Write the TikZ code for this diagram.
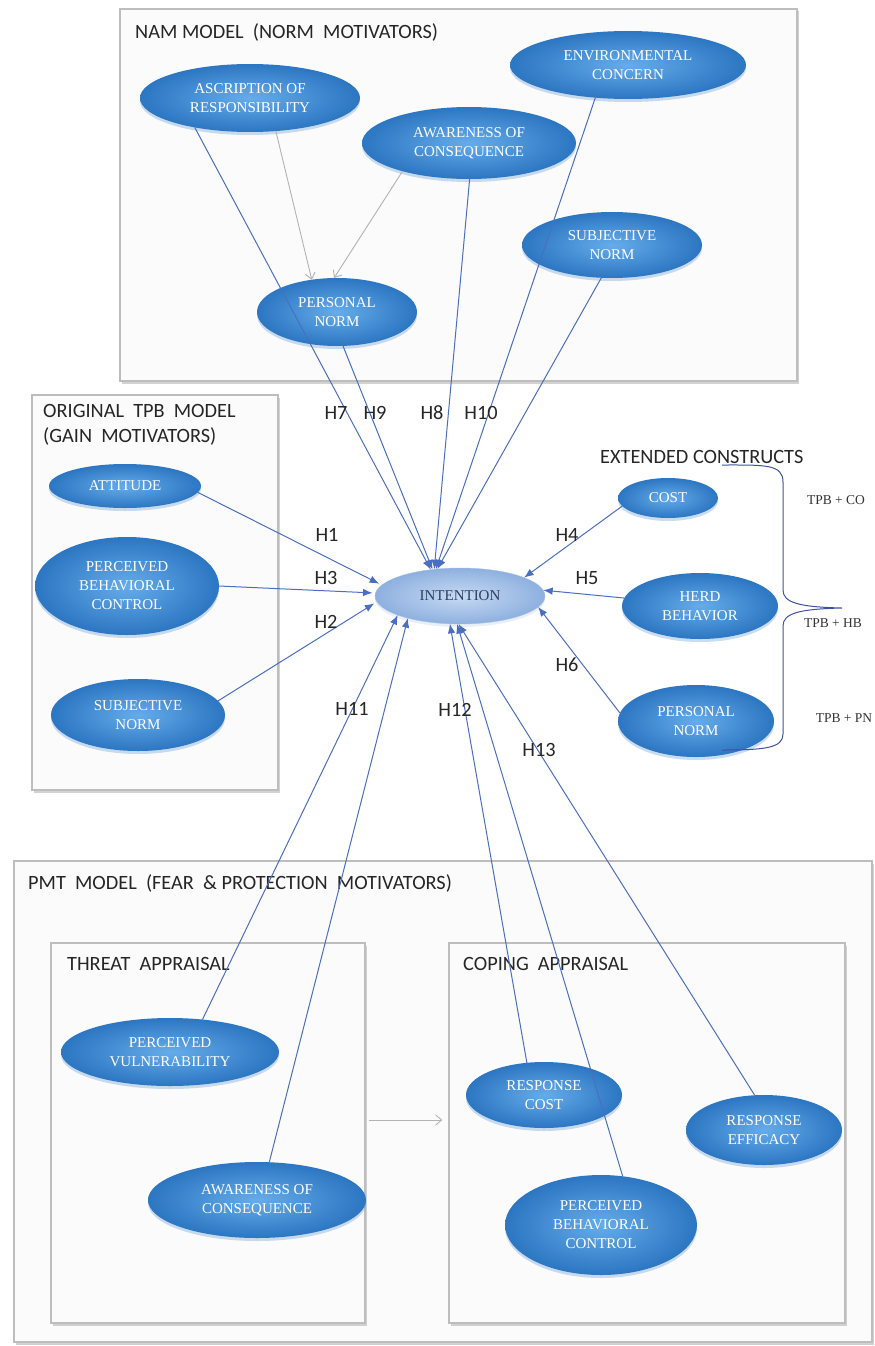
\documentclass[tikz,border=0pt]{standalone}
\usepackage{fontspec}
\setmainfont{Liberation Serif}
\newfontfamily\labfont{Carlito}
\usetikzlibrary{arrows.meta,shapes.geometric,shadows}

\definecolor{pathblue}{HTML}{4A6FC0}
\definecolor{ellin}{HTML}{66ACEA}
\definecolor{ellout}{HTML}{2C76C2}
\definecolor{intin}{HTML}{C6DAF3}
\definecolor{intout}{HTML}{8EB0DF}
\definecolor{inttext}{HTML}{2E3F5F}
\definecolor{panelline}{HTML}{BDBDBD}
\definecolor{bracecol}{HTML}{3F51A0}

\tikzset{
  construct/.style={ellipse, inner sep=0pt, outer sep=0pt,
    inner color=ellin, outer color=ellout, text=white, align=center,
    font=\fontsize{15}{19}\selectfont,
    drop shadow={shadow xshift=0pt, shadow yshift=-3pt, opacity=0.25, fill=ellout}},
  panel/.style={rectangle, draw=panelline, line width=1.2pt, fill=gray!3, inner sep=0pt,
    drop shadow={shadow xshift=2pt, shadow yshift=-2.5pt, opacity=0.35}},
  caption/.style={font=\labfont\fontsize{20.3}{25}\selectfont, text=black!85, inner sep=0pt, align=left},
  hyp/.style={font=\labfont\fontsize{20.3}{24}\selectfont, text=black!85, inner sep=0pt},
  combo/.style={font=\fontsize{13.5}{16}\selectfont, text=black!80, inner sep=0pt},
  link/.style={draw=pathblue, line width=1pt, -{Latex[length=9.5pt,width=7.5pt]}},
  feed/.style={draw=gray!60, line width=0.9pt, -{Straight Barb[length=6pt,width=10pt]}},
}

\begin{document}
\begin{tikzpicture}[x=1pt, y=-1pt]
\useasboundingbox (0,0) rectangle (875,1346);
\fill[white] (0,0) rectangle (875,1346);

% model panels
\node[panel, minimum width=677pt, minimum height=372pt] (nam) at (458.5,195) {};
\node[panel, minimum width=246pt, minimum height=395pt] (tpb) at (155,592.5) {};
\node[panel, minimum width=858pt, minimum height=481pt] (pmt) at (443,1101.5) {};
\node[panel, minimum width=314pt, minimum height=380pt] (threat) at (208,1133) {};
\node[panel, minimum width=396pt, minimum height=380pt] (coping) at (647,1133) {};

% panel captions
\node[caption, anchor=west] (namcap) at (135,32) {NAM MODEL \ (NORM \ MOTIVATORS)};
\node[caption, anchor=north west] (tpbcap) at (43,404) {ORIGINAL \ TPB \ MODEL\\(GAIN \ MOTIVATORS)};
\node[caption, anchor=west] (extcap) at (600,457) {EXTENDED CONSTRUCTS};
\node[caption, anchor=west] (pmtcap) at (28,883) {PMT \ MODEL \ (FEAR \ \& PROTECTION \ MOTIVATORS)};
\node[caption, anchor=west] (thrcap) at (67,964) {THREAT \ APPRAISAL};
\node[caption, anchor=west] (copcap) at (463,964) {COPING \ APPRAISAL};

% NAM constructs
\node[construct, minimum width=220pt, minimum height=68pt] (asc) at (250,98) {ASCRIPTION OF\\RESPONSIBILITY};
\node[construct, minimum width=236pt, minimum height=68pt] (env) at (628,65) {ENVIRONMENTAL\\CONCERN};
\node[construct, minimum width=214pt, minimum height=72pt] (aw1) at (469,143) {AWARENESS OF\\CONSEQUENCE};
\node[construct, minimum width=180pt, minimum height=66pt] (sn1) at (612,245) {SUBJECTIVE\\NORM};
\node[construct, minimum width=160pt, minimum height=68pt] (pn1) at (337,312) {PERSONAL\\NORM};

% TPB constructs
\node[construct, minimum width=152pt, minimum height=44pt] (att) at (125,486) {ATTITUDE};
\node[construct, minimum width=184pt, minimum height=98pt] (pbc1) at (127,586) {PERCEIVED\\BEHAVIORAL\\CONTROL};
\node[construct, minimum width=174pt, minimum height=72pt] (sn2) at (138,715) {SUBJECTIVE\\NORM};

% intention
\node[ellipse, inner sep=0pt, outer sep=0pt, minimum width=170pt, minimum height=56pt,
  inner color=intin, outer color=intout, draw=intout!80, line width=0.4pt,
  text=inttext, font=\fontsize{15}{19}\selectfont,
  drop shadow={shadow xshift=0pt, shadow yshift=-3pt, opacity=0.2, fill=intout}] (int) at (460,596) {INTENTION};

% extended constructs
\node[construct, minimum width=100pt, minimum height=40pt] (cost) at (668,498) {COST};
\node[construct, minimum width=156pt, minimum height=66pt] (herd) at (700,606) {HERD\\BEHAVIOR};
\node[construct, minimum width=156pt, minimum height=72pt] (pn2) at (696,721) {PERSONAL\\NORM};

% PMT constructs
\node[construct, minimum width=218pt, minimum height=68pt] (pv) at (170,1052) {PERCEIVED\\VULNERABILITY};
\node[construct, minimum width=218pt, minimum height=76pt] (aw2) at (257,1200) {AWARENESS OF\\CONSEQUENCE};
\node[construct, minimum width=156pt, minimum height=66pt] (rc) at (544,1095) {RESPONSE\\COST};
\node[construct, minimum width=156pt, minimum height=70pt] (ref) at (764,1130) {RESPONSE\\EFFICACY};
\node[construct, minimum width=192pt, minimum height=100pt] (pbc2) at (601,1225) {PERCEIVED\\BEHAVIORAL\\CONTROL};

% NAM internal paths
\draw[feed] (asc.308) -- (pn1.128);
\draw[feed] (aw1.203) -- (pn1.95);

% hypothesised paths into intention
\draw[link] (asc.208) -- (int.138);
\draw[link] (pn1.280) -- (int.136);
\draw[link] (aw1.271) -- (int.134);
\draw[link] (env.225) -- (int.132);
\draw[link] (sn1.252) -- (int.130);

\draw[link, shorten >=3pt] (att.355) -- (int.172);
\draw[link, shorten >=3pt] (pbc1.0) -- (int.178);
\draw[link, shorten >=3pt] (sn2.10) -- (int.184);

\draw[link] (cost.190) -- (int.16);
\draw[link] (herd.174) -- (int.4);
\draw[link] (pn2.174) -- (int.-8);

\draw[link] (pv.45) -- (int.197);
\draw[link] (aw2.72) -- (int.203);
\draw[link] (rc.118) -- (int.250);
\draw[link] (pbc2.66) -- (int.264);
\draw[link] (ref.105) -- (int.267);

% threat appraisal feeds coping appraisal
\draw[feed, shorten <=3pt, shorten >=6pt] ([yshift=13pt]threat.east) -- ([yshift=13pt]coping.west);

% hypothesis labels
\node[hyp] (h7) at (336,413) {H7};
\node[hyp] (h9) at (375,413) {H9};
\node[hyp] (h8) at (432,413) {H8};
\node[hyp] (h10) at (481,413) {H10};
\node[hyp] (h1) at (327,535) {H1};
\node[hyp] (h3) at (326,578) {H3};
\node[hyp] (h2) at (326,622) {H2};
\node[hyp] (h4) at (567,535) {H4};
\node[hyp] (h5) at (587,578) {H5};
\node[hyp] (h6) at (567,665) {H6};
\node[hyp] (h11) at (352,709) {H11};
\node[hyp] (h12) at (455,710) {H12};
\node[hyp] (h13) at (539,750) {H13};

% brace grouping the extended constructs
\draw[bracecol, line width=1pt] (722,465) .. controls (765,465) and (783,464) .. (783,482)
  -- (783,590) .. controls (783,603) and (800,607) .. (842,608)
  .. controls (800,609) and (783,613) .. (783,626)
  -- (783,734) .. controls (783,748) and (765,750) .. (722,750);

\node[combo] (tpbco) at (836,500) {TPB + CO};
\node[combo] (tpbhb) at (833,623) {TPB + HB};
\node[combo] (tpbpn) at (844,718) {TPB + PN};
\end{tikzpicture}
\end{document}
